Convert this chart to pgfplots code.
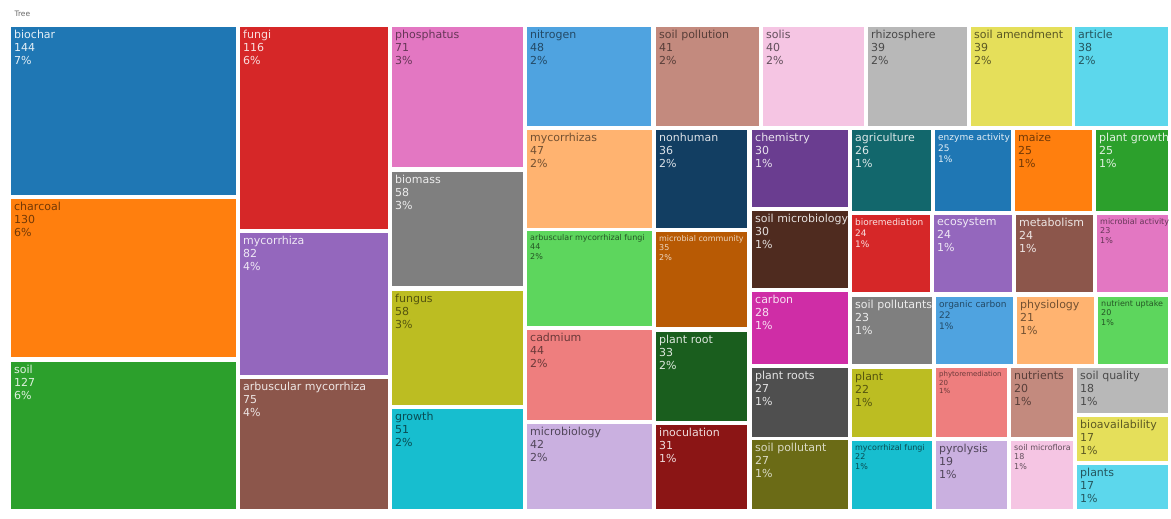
\documentclass[border=0pt]{standalone}
\usepackage{pgfplots}
\pgfplotsset{compat=1.18}
\usepackage{fontspec}
\setmainfont{DejaVu Sans}

% treemap tile palette
\definecolor{tBlue}{HTML}{1F77B4}
\definecolor{tOrange}{HTML}{FF7F0E}
\definecolor{tGreen}{HTML}{2CA02C}
\definecolor{tRed}{HTML}{D62728}
\definecolor{tPurple}{HTML}{9467BD}
\definecolor{tBrown}{HTML}{8C564B}
\definecolor{tPink}{HTML}{E377C2}
\definecolor{tGray}{HTML}{7F7F7F}
\definecolor{tOlive}{HTML}{BCBD22}
\definecolor{tCyan}{HTML}{17BECF}
\definecolor{lBlue}{HTML}{4FA3E0}
\definecolor{lBrown}{HTML}{C38A7E}
\definecolor{lPink}{HTML}{F5C5E3}
\definecolor{lGray}{HTML}{B8B8B8}
\definecolor{lYellow}{HTML}{E5DF5A}
\definecolor{lCyan}{HTML}{5CD7EC}
\definecolor{lOrange}{HTML}{FFB370}
\definecolor{lGreen}{HTML}{5DD65D}
\definecolor{lRed}{HTML}{EE7E7E}
\definecolor{lPurple}{HTML}{CAB0E0}
\definecolor{dBlue}{HTML}{123E62}
\definecolor{dOrange}{HTML}{B85A04}
\definecolor{dGreen}{HTML}{1A5E1E}
\definecolor{dRed}{HTML}{8B1515}
\definecolor{dPurple}{HTML}{6A3D90}
\definecolor{dBrown}{HTML}{4F2B1F}
\definecolor{dPink}{HTML}{CF2DA6}
\definecolor{dGray}{HTML}{4F4F4F}
\definecolor{dOlive}{HTML}{6B6B16}
\definecolor{dTeal}{HTML}{12676C}

\newcommand{\fN}{\fontsize{11}{13}\selectfont}
\newcommand{\fM}{\fontsize{9}{11}\selectfont}
\newcommand{\fS}{\fontsize{8}{9.5}\selectfont}
\newcommand{\fT}{\fontsize{7}{8.5}\selectfont}

% x0 y0 x1 y1 fill text font label
\newcommand{\tile}[8]{%
  \addplot[fill=#5, draw=none, forget plot] coordinates {(#1,#2) (#3,#2) (#3,#4) (#1,#4)} -- cycle;
  \node[anchor=north west, inner sep=0pt, xshift=3pt, yshift=-3pt, align=left,
        text=#6, font=#7] at (axis cs:#1,#2) {#8};
}

\begin{document}
\begin{tikzpicture}
\begin{axis}[
    scale only axis,
    width=1171pt, height=519pt,
    xmin=0, xmax=1171, ymin=0, ymax=519,
    y dir=reverse,
    hide axis,
    clip=false,
]
\addplot[draw=none, forget plot] coordinates {(0,0) (1171,519)};
\node[anchor=west, font=\fontsize{7.5}{8}\selectfont, text=black!60] at (axis cs:11,14) {Tree};

\tile{11}{27}{236}{195}{tBlue}{tBlue!12!white}{\fN}{biochar\\144\\7\%}
\tile{11}{199}{236}{357}{tOrange}{tOrange!45!black}{\fN}{charcoal\\130\\6\%}
\tile{11}{362}{236}{509}{tGreen}{tGreen!15!white}{\fN}{soil\\127\\6\%}

\tile{240}{27}{388}{229}{tRed}{tRed!15!white}{\fN}{fungi\\116\\6\%}
\tile{240}{233}{388}{375}{tPurple}{tPurple!15!white}{\fN}{mycorrhiza\\82\\4\%}
\tile{240}{379}{388}{509}{tBrown}{tBrown!15!white}{\fN}{arbuscular mycorrhiza\\75\\4\%}

\tile{392}{27}{523}{167}{tPink}{tPink!45!black}{\fN}{phosphatus\\71\\3\%}
\tile{392}{172}{523}{286}{tGray}{tGray!15!white}{\fN}{biomass\\58\\3\%}
\tile{392}{291}{523}{405}{tOlive}{tOlive!45!black}{\fN}{fungus\\58\\3\%}
\tile{392}{409}{523}{509}{tCyan}{tCyan!40!black}{\fN}{growth\\51\\2\%}

\tile{527}{27}{651}{126}{lBlue}{lBlue!45!black}{\fN}{nitrogen\\48\\2\%}
\tile{656}{27}{759}{126}{lBrown}{lBrown!45!black}{\fN}{soil pollution\\41\\2\%}
\tile{763}{27}{864}{126}{lPink}{lPink!40!black}{\fN}{solis\\40\\2\%}
\tile{868}{27}{967}{126}{lGray}{lGray!40!black}{\fN}{rhizosphere\\39\\2\%}
\tile{971}{27}{1072}{126}{lYellow}{lYellow!40!black}{\fN}{soil amendment\\39\\2\%}
\tile{1075}{27}{1168}{126}{lCyan}{lCyan!40!black}{\fN}{article\\38\\2\%}

\tile{527}{130}{652}{228}{lOrange}{lOrange!45!black}{\fN}{mycorrhizas\\47\\2\%}
\tile{527}{231}{652}{326}{lGreen}{lGreen!40!black}{\fS}{arbuscular mycorrhizal fungi\\44\\2\%}
\tile{527}{330}{652}{420}{lRed}{lRed!45!black}{\fN}{cadmium\\44\\2\%}
\tile{527}{424}{652}{509}{lPurple}{lPurple!40!black}{\fN}{microbiology\\42\\2\%}

\tile{656}{130}{747}{228}{dBlue}{dBlue!15!white}{\fN}{nonhuman\\36\\2\%}
\tile{656}{232}{747}{327}{dOrange}{dOrange!25!white}{\fS}{microbial community\\35\\2\%}
\tile{656}{332}{747}{421}{dGreen}{dGreen!15!white}{\fN}{plant root\\33\\2\%}
\tile{656}{425}{747}{509}{dRed}{dRed!15!white}{\fN}{inoculation\\31\\1\%}

\tile{752}{130}{848}{207}{dPurple}{dPurple!15!white}{\fN}{chemistry\\30\\1\%}
\tile{752}{211}{848}{288}{dBrown}{dBrown!15!white}{\fN}{soil microbiology\\30\\1\%}
\tile{752}{292}{848}{364}{dPink}{dPink!15!white}{\fN}{carbon\\28\\1\%}
\tile{752}{368}{848}{437}{dGray}{dGray!15!white}{\fN}{plant roots\\27\\1\%}
\tile{752}{440}{848}{509}{dOlive}{dOlive!25!white}{\fN}{soil pollutant\\27\\1\%}

\tile{852}{130}{931}{211}{dTeal}{dTeal!15!white}{\fN}{agriculture\\26\\1\%}
\tile{935}{130}{1011}{211}{tBlue}{tBlue!12!white}{\fM}{enzyme activity\\25\\1\%}
\tile{1015}{130}{1092}{211}{tOrange}{tOrange!45!black}{\fN}{maize\\25\\1\%}
\tile{1096}{130}{1168}{211}{tGreen}{tGreen!15!white}{\fN}{plant growth\\25\\1\%}

\tile{852}{215}{930}{292}{tRed}{tRed!15!white}{\fM}{bioremediation\\24\\1\%}
\tile{934}{215}{1012}{292}{tPurple}{tPurple!15!white}{\fN}{ecosystem\\24\\1\%}
\tile{1016}{215}{1093}{292}{tBrown}{tBrown!15!white}{\fN}{metabolism\\24\\1\%}
\tile{1097}{215}{1168}{292}{tPink}{tPink!45!black}{\fS}{microbial activity\\23\\1\%}

\tile{852}{297}{932}{364}{tGray}{tGray!15!white}{\fN}{soil pollutants\\23\\1\%}
\tile{936}{297}{1013}{364}{lBlue}{lBlue!45!black}{\fM}{organic carbon\\22\\1\%}
\tile{1017}{297}{1094}{364}{lOrange}{lOrange!45!black}{\fN}{physiology\\21\\1\%}
\tile{1098}{297}{1168}{364}{lGreen}{lGreen!40!black}{\fS}{nutrient uptake\\20\\1\%}

\tile{852}{369}{932}{437}{tOlive}{tOlive!45!black}{\fN}{plant\\22\\1\%}
\tile{852}{441}{932}{509}{tCyan}{tCyan!40!black}{\fS}{mycorrhizal fungi\\22\\1\%}
\tile{936}{368}{1007}{437}{lRed}{lRed!45!black}{\fT}{phytoremediation\\20\\1\%}
\tile{936}{441}{1007}{509}{lPurple}{lPurple!40!black}{\fN}{pyrolysis\\19\\1\%}
\tile{1011}{368}{1073}{437}{lBrown}{lBrown!45!black}{\fN}{nutrients\\20\\1\%}
\tile{1011}{441}{1073}{509}{lPink}{lPink!40!black}{\fS}{soil microflora\\18\\1\%}
\tile{1077}{368}{1168}{413}{lGray}{lGray!40!black}{\fN}{soil quality\\18\\1\%}
\tile{1077}{417}{1168}{461}{lYellow}{lYellow!40!black}{\fN}{bioavailability\\17\\1\%}
\tile{1077}{465}{1168}{509}{lCyan}{lCyan!40!black}{\fN}{plants\\17\\1\%}
\end{axis}
\end{tikzpicture}
\end{document}
